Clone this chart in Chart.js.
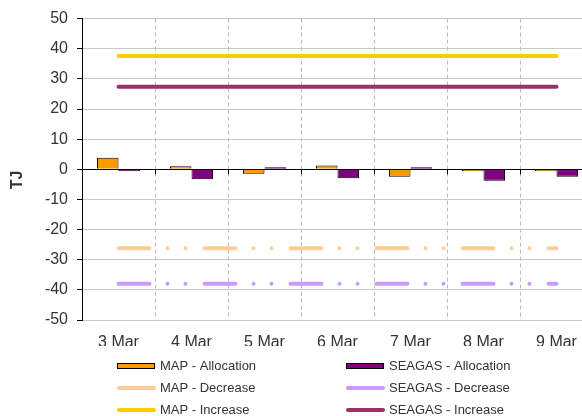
<!DOCTYPE html>
<html>
<head>
<meta charset="utf-8">
<script src="https://cdn.jsdelivr.net/npm/chart.js@4.4.1/dist/chart.umd.min.js"></script>
<style>
  html, body { margin: 0; padding: 0; overflow: hidden; background: #fff; }
</style>
</head>
<body>
<canvas id="tjChart" width="600" height="416"></canvas>
<script>
const days = ['3 Mar', '4 Mar', '5 Mar', '6 Mar', '7 Mar', '8 Mar', '9 Mar'];
const mapAllocation = [3.8, 1.0, -1.5, 1.3, -2.5, -0.3, -0.3];
const seagasAllocation = [-0.2, -3.3, 0.5, -3.0, 0.5, -3.8, -2.5];
const mapDecrease = [-26.2, -26.2, -26.2, -26.2, -26.2, -26.2, -26.2];
const seagasDecrease = [-38, -38, -38, -38, -38, -38, -38];
const mapIncrease = [37.6, 37.6, 37.6, 37.6, 37.6, 37.6, 37.6];
const seagasIncrease = [27.4, 27.4, 27.4, 27.4, 27.4, 27.4, 27.4];
const yTicks = [50, 40, 30, 20, 10, 0, -10, -20, -30, -40, -50];
const yTitle = 'TJ';

const fontFamily = '"Liberation Sans", Arial, sans-serif';
const dashDotDot = [31, 18, 0, 18, 0, 19];

// legend slots: dataset index and where it sits
const legendSlots = [
    { ds: 0, x: 117, y: 366 }, { ds: 1, x: 346, y: 366 },
    { ds: 2, x: 117, y: 388 }, { ds: 3, x: 346, y: 388 },
    { ds: 4, x: 117, y: 410 }, { ds: 5, x: 346, y: 410 }
];

const extras = {
    id: 'extras',
    afterDatasetsDraw(chart) {
        const ctx = chart.ctx;
        const x = chart.scales.x, y = chart.scales.y;
        const y0 = y.getPixelForValue(0);
        const step = x.getPixelForValue(1) - x.getPixelForValue(0);
        ctx.save();
        ctx.strokeStyle = '#000';
        ctx.lineWidth = 1;
        for (let i = 1; i < days.length; i++) {
            const px = Math.round(x.getPixelForValue(i) - step / 2) + 0.5;
            ctx.beginPath();
            ctx.moveTo(px, y0);
            ctx.lineTo(px, y0 + 5);
            ctx.stroke();
        }
        ctx.restore();
    },
    afterDraw(chart) {
        const ctx = chart.ctx;
        ctx.save();
        // axis title, sits a little below the middle like the original
        ctx.translate(18, 180);
        ctx.rotate(-Math.PI / 2);
        ctx.font = 'bold 16px ' + fontFamily;
        ctx.fillStyle = '#333';
        ctx.textAlign = 'center';
        ctx.textBaseline = 'middle';
        ctx.fillText(yTitle, 0, 0);
        ctx.restore();

        ctx.save();
        ctx.font = '13px ' + fontFamily;
        ctx.textBaseline = 'middle';
        legendSlots.forEach(s => {
            const ds = chart.data.datasets[s.ds];
            if (ds.type === 'bar') {
                ctx.fillStyle = ds.backgroundColor;
                ctx.fillRect(s.x, s.y - 3, 38, 6);
                ctx.strokeStyle = '#000';
                ctx.lineWidth = 1;
                ctx.strokeRect(s.x + 0.5, s.y - 2.5, 37, 5);
            } else {
                ctx.strokeStyle = ds.borderColor;
                ctx.lineWidth = 4;
                ctx.lineCap = 'round';
                ctx.beginPath();
                ctx.moveTo(s.x + 2, s.y);
                ctx.lineTo(s.x + 37, s.y);
                ctx.stroke();
            }
            ctx.fillStyle = '#333';
            ctx.fillText(ds.label, s.x + 43, s.y);
        });
        ctx.restore();
    }
};

new Chart(document.getElementById('tjChart'), {
    data: {
        labels: days,
        datasets: [
            { type: 'bar', label: 'MAP - Allocation', data: mapAllocation,
              backgroundColor: '#FF9900', borderColor: '#000', borderWidth: 1, order: 2 },
            { type: 'bar', label: 'SEAGAS - Allocation', data: seagasAllocation,
              backgroundColor: '#800080', borderColor: '#000', borderWidth: 1, order: 2 },
            { type: 'line', label: 'MAP - Decrease', data: mapDecrease,
              borderColor: '#FFCC99', borderWidth: 4, borderDash: dashDotDot,
              borderCapStyle: 'round', pointRadius: 0, order: 1 },
            { type: 'line', label: 'SEAGAS - Decrease', data: seagasDecrease,
              borderColor: '#CC99FF', borderWidth: 4, borderDash: dashDotDot,
              borderCapStyle: 'round', pointRadius: 0, order: 1 },
            { type: 'line', label: 'MAP - Increase', data: mapIncrease,
              borderColor: '#FFCC00', borderWidth: 4, borderCapStyle: 'round',
              pointRadius: 0, order: 1 },
            { type: 'line', label: 'SEAGAS - Increase', data: seagasIncrease,
              borderColor: '#993366', borderWidth: 4, borderCapStyle: 'round',
              pointRadius: 0, order: 1 }
        ]
    },
    options: {
        responsive: false,
        animation: false,
        layout: { padding: { top: 17, right: 7, bottom: 70, left: 0 } },
        datasets: { bar: { categoryPercentage: 0.59, barPercentage: 1, minBarLength: 2 } },
        plugins: { legend: { display: false }, tooltip: { enabled: false } },
        scales: {
            x: {
                offset: true,
                grid: { offset: true, color: '#BBBBBB', drawTicks: false },
                border: { display: false, dash: [4, 3] },
                ticks: { color: '#333', font: { family: fontFamily, size: 16 }, padding: 13 },
                afterFit: s => { s.height = 26; }
            },
            y: {
                min: -50, max: 50,
                afterBuildTicks: s => { s.ticks = yTicks.map(v => ({ value: v })); },
                grid: {
                    color: c => (c.tick && c.tick.value === 0 ? '#000' : '#C8C8C8'),
                    tickColor: '#000', tickLength: 5
                },
                border: { color: '#000' },
                ticks: { color: '#333', font: { family: fontFamily, size: 16 }, padding: 9 },
                afterFit: s => { s.width = 82; }
            }
        }
    },
    plugins: [extras]
});
</script>
</body>
</html>
